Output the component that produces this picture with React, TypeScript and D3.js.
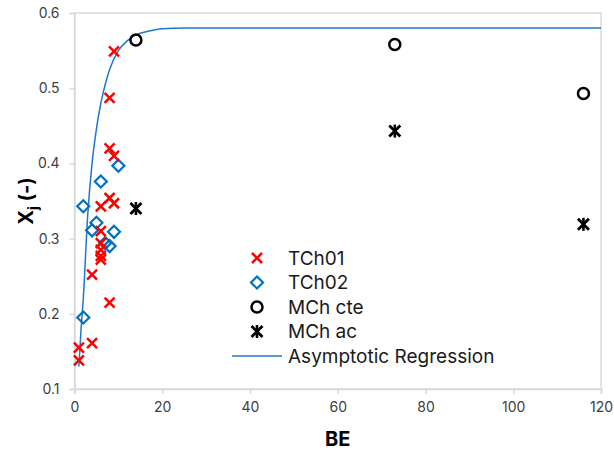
import * as d3 from 'd3';
import React, { useRef, useEffect } from 'react';

// TCh01 (red crosses)
const tch01X = [9, 8, 8, 9, 8, 6, 9, 6, 6, 6, 6, 6, 4, 8, 4, 1, 1];
const tch01Y = [0.549, 0.487, 0.42, 0.41, 0.354, 0.343, 0.347, 0.31, 0.294, 0.285, 0.277, 0.272, 0.252, 0.215, 0.161, 0.155, 0.138];

// TCh02 (blue diamonds)
const tch02X = [10, 6, 2, 5, 4, 9, 7, 8, 2];
const tch02Y = [0.397, 0.376, 0.343, 0.321, 0.311, 0.309, 0.294, 0.29, 0.195];

// MCh cte (circles) and MCh ac (stars)
const mchX = [14, 73, 116];
const mchCteY = [0.564, 0.558, 0.493];
const mchAcY = [0.34, 0.443, 0.319];

// asymptotic regression curve
const regX = [1, 1.5, 2, 3, 4, 5, 6, 7, 8, 10, 12, 14, 17, 20, 25, 120];
const regY = [0.13, 0.18, 0.22, 0.33, 0.4, 0.446, 0.48, 0.505, 0.525, 0.55, 0.563, 0.571, 0.576, 0.579, 0.58, 0.58];

const xTicks = [0, 20, 40, 60, 80, 100, 120];
const yTicks = [0.1, 0.2, 0.3, 0.4, 0.5, 0.6];

const legendNames = ['TCh01', 'TCh02', 'MCh cte', 'MCh ac', 'Asymptotic Regression'];

const W = 614, H = 454;
const margin = { left: 74.5, right: 13, top: 13, bottom: 65 };
const grey = '#d9d9d9';
const font = 'Inter, "Liberation Sans", Arial, sans-serif';

function App() {
  const ref = useRef(null);

  useEffect(() => {
    const svg = d3.select(ref.current);
    svg.selectAll('*').remove();

    const x = d3.scaleLinear().domain([0, 120]).range([margin.left, W - margin.right]);
    const y = d3.scaleLinear().domain([0.1, 0.6]).range([H - margin.bottom, margin.top]);

    // frame
    svg.append('rect')
      .attr('x', x(0)).attr('y', y(0.6))
      .attr('width', x(120) - x(0)).attr('height', y(0.1) - y(0.6))
      .attr('fill', 'none').attr('stroke', grey).attr('stroke-width', 1.5);

    const xAxis = svg.append('g')
      .attr('transform', `translate(0, ${y(0.1)})`)
      .call(d3.axisBottom(x).tickValues(xTicks).tickSize(5).tickPadding(8).tickFormat(d3.format('d')));
    const yAxis = svg.append('g')
      .attr('transform', `translate(${x(0)}, 0)`)
      .call(d3.axisLeft(y).tickValues(yTicks).tickSize(5).tickPadding(10).tickFormat(d3.format('.1f')));

    [xAxis, yAxis].forEach((a) => {
      a.select('.domain').attr('stroke', grey).attr('stroke-width', 1.5);
      a.selectAll('.tick line').attr('stroke', grey).attr('stroke-width', 1.5);
      a.selectAll('.tick text').attr('fill', '#404040').style('font-family', font).style('font-size', '14px');
    });

    // axis titles
    svg.append('text')
      .attr('x', x(60)).attr('y', 446)
      .attr('text-anchor', 'middle')
      .style('font-family', font).style('font-size', '20px').style('font-weight', 'bold')
      .text('BE');

    const yt = svg.append('text')
      .attr('transform', `translate(33, ${y(0.35)}) rotate(-90)`)
      .attr('text-anchor', 'middle')
      .style('font-family', font).style('font-size', '20px').style('font-weight', 'bold');
    yt.append('tspan').text('X');
    yt.append('tspan').attr('dy', 5).style('font-size', '14px').text('j');
    yt.append('tspan').attr('dy', -5).text(' (-)');

    // regression line
    const line = d3.line().x((d) => x(d[0])).y((d) => y(d[1])).curve(d3.curveMonotoneX);
    svg.append('path')
      .datum(regX.map((v, i) => [v, regY[i]]))
      .attr('d', line)
      .attr('fill', 'none').attr('stroke', '#1f77d0').attr('stroke-width', 1.5);

    const cross = (g, cx, cy, s, color, w) => {
      g.append('path')
        .attr('d', `M${cx - s},${cy - s}L${cx + s},${cy + s}M${cx - s},${cy + s}L${cx + s},${cy - s}`)
        .attr('stroke', color).attr('stroke-width', w).attr('fill', 'none');
    };
    const diamond = (g, cx, cy, s) => {
      g.append('path')
        .attr('d', `M${cx},${cy - s}L${cx + s},${cy}L${cx},${cy + s}L${cx - s},${cy}Z`)
        .attr('stroke', '#0070c0').attr('stroke-width', 2.2).attr('fill', 'none');
    };
    const circle = (g, cx, cy) => {
      g.append('circle').attr('cx', cx).attr('cy', cy).attr('r', 5.5)
        .attr('stroke', '#000').attr('stroke-width', 2.5).attr('fill', 'none');
    };
    const star = (g, cx, cy) => {
      cross(g, cx, cy, 5.5, '#000', 2.8);
      g.append('path').attr('d', `M${cx},${cy - 6.5}L${cx},${cy + 6.5}`)
        .attr('stroke', '#000').attr('stroke-width', 2.6);
    };

    const marks = svg.append('g');
    tch02X.forEach((v, i) => diamond(marks, x(v), y(tch02Y[i]), 6));
    tch01X.forEach((v, i) => cross(marks, x(v), y(tch01Y[i]), 5, '#ff0000', 2.5));
    mchX.forEach((v, i) => circle(marks, x(v), y(mchCteY[i])));
    mchX.forEach((v, i) => star(marks, x(v), y(mchAcY[i])));

    // legend
    const lg = svg.append('g');
    const ly0 = 258, ldy = 24.5, lx = 257;
    legendNames.forEach((name, i) => {
      const cy = ly0 + i * ldy;
      if (i === 0) cross(lg, lx, cy, 5, '#ff0000', 2.5);
      if (i === 1) diamond(lg, lx, cy, 6);
      if (i === 2) circle(lg, lx, cy);
      if (i === 3) star(lg, lx, cy);
      if (i === 4) {
        lg.append('line').attr('x1', 232).attr('x2', 282).attr('y1', cy).attr('y2', cy)
          .attr('stroke', '#1f77d0').attr('stroke-width', 1.5);
      }
      lg.append('text')
        .attr('x', 288).attr('y', cy)
        .attr('dy', '0.35em')
        .attr('fill', '#1a1a1a')
        .style('font-family', font).style('font-size', '19px')
        .text(name);
    });
  }, []);

  return (
    <div style={{ position: 'absolute', left: 0, top: 0 }}>
      <svg ref={ref} width={W} height={H} style={{ display: 'block', background: '#fff' }}></svg>
    </div>
  );
}

export default App;
